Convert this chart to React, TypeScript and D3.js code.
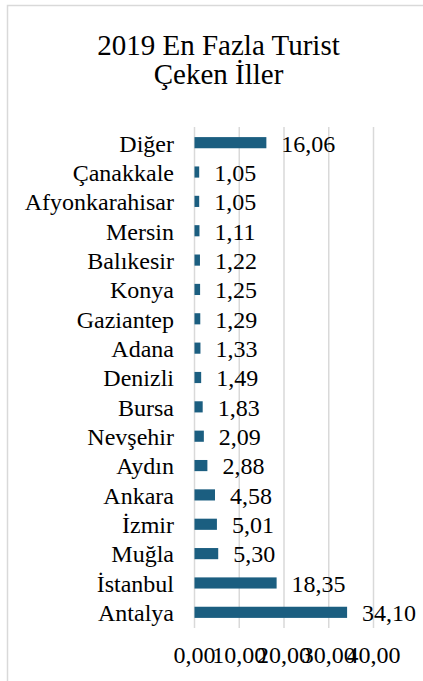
import React from "react";
import * as d3 from "d3";

const categories = ["Diğer","Çanakkale","Afyonkarahisar","Mersin","Balıkesir","Konya","Gaziantep","Adana","Denizli","Bursa","Nevşehir","Aydın","Ankara","İzmir","Muğla","İstanbul","Antalya"];
const values = [16.06,1.05,1.05,1.11,1.22,1.25,1.29,1.33,1.49,1.83,2.09,2.88,4.58,5.01,5.30,18.35,34.10];
const ticks = [0,10,20,30,40];
const titleLines = ["2019 En Fazla Turist","Çeken İller"];

const fmt = (v: number) => v.toFixed(2).replace(".", ",");

const FONT = '"Liberation Serif", "Tinos", "FreeSerif", "Times New Roman", serif';

export default function App() {
  const x = d3.scaleLinear().domain([0, 40]).range([194.5, 373.5]);
  const y = d3.scaleBand<string>().domain(categories).range([128, 627]).paddingInner(0.62).paddingOuter(0.31);
  const barColor = "#1b5e80";
  const ts: React.CSSProperties = { fontFamily: FONT };
  return (
    <div style={{ position: "absolute", left: 0, top: 0, fontFamily: FONT }}>
      <svg width={423} height={681} style={{ display: "block" }}>
        <style>{`text { font-family: ${FONT}; }`}</style>
        <rect x={0} y={0} width={423} height={681} fill="#fff" />
        <rect x={7.5} y={5.5} width={500} height={700} fill="#fff" stroke="#d9d9d9" strokeWidth={1.5} />
        {titleLines.map((t, i) => (
          <text key={t} x={218.5} y={55 + i * 29} textAnchor="middle" fontSize={29} fill="#000" style={ts}>{t}</text>
        ))}
        {ticks.map((t) => (
          <line key={t} x1={x(t)} x2={x(t)} y1={127} y2={628} stroke="#d9d9d9" strokeWidth={1.5} />
        ))}
        {categories.map((c, i) => {
          const yy = y(c)!;
          const cy = yy + y.bandwidth() / 2;
          return (
            <g key={c}>
              <rect x={x(0)} y={yy} width={x(values[i]) - x(0)} height={y.bandwidth()} fill={barColor} />
              <text x={174} y={cy} dy="0.37em" textAnchor="end" fontSize={24} fill="#000" style={ts}>{c}</text>
              <text x={x(values[i]) + 15} y={cy} dy="0.37em" textAnchor="start" fontSize={24} fill="#000" style={ts}>{fmt(values[i])}</text>
            </g>
          );
        })}
        {ticks.map((t) => (
          <text key={"l" + t} x={x(t)} y={663} textAnchor="middle" fontSize={24} fill="#000" style={ts}>{fmt(t)}</text>
        ))}
      </svg>
    </div>
  );
}
